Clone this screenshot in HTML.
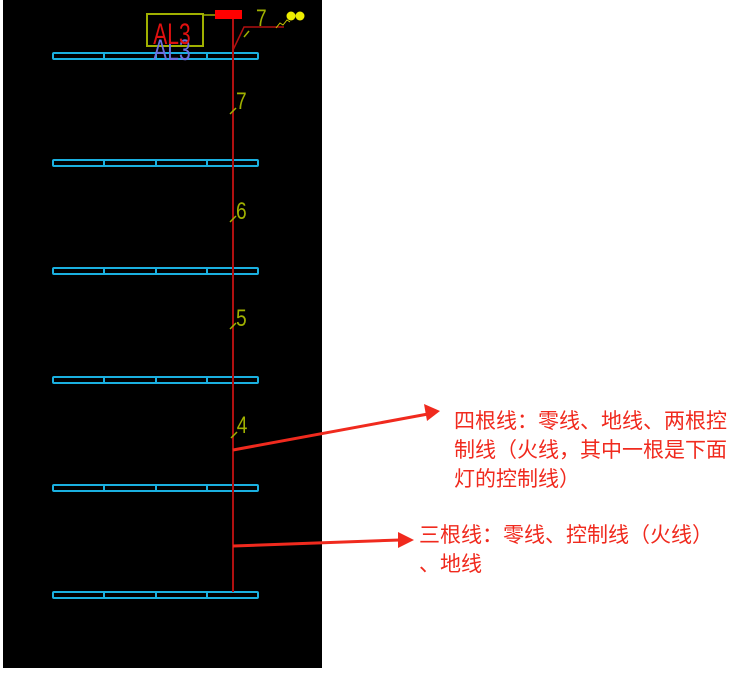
<!DOCTYPE html>
<html><head><style>
html,body{margin:0;padding:0;background:#fff;width:748px;height:683px;overflow:hidden}
.t{position:absolute;color:#f02a1e;font-family:"Liberation Sans","Noto Sans CJK SC",sans-serif;font-size:21px;line-height:29px}
</style></head><body>
<svg width="748" height="683" style="position:absolute;left:0;top:0">
<rect x="3" y="0" width="319" height="668" fill="#000"/>
<g fill="none" stroke="#1ab0e0" stroke-width="2">
<rect x="53" y="53" width="205" height="6" rx="1"/>
<rect x="53" y="160" width="205" height="6" rx="1"/>
<rect x="53" y="268" width="205" height="6" rx="1"/>
<rect x="53" y="377" width="205" height="6" rx="1"/>
<rect x="53" y="485" width="205" height="6" rx="1"/>
<rect x="53" y="592" width="205" height="6" rx="1"/>
<path d="M104 53v6M156 53v6M207 53v6M104 160v6M156 160v6M207 160v6M104 268v6M156 268v6M207 268v6M104 377v6M156 377v6M207 377v6M104 485v6M156 485v6M207 485v6M104 592v6M156 592v6M207 592v6"/>
</g>
<path d="M233 18V592" stroke="#b01010" stroke-width="2"/>
<path d="M233 50L244 27H284" stroke="#b01010" stroke-width="1.5" fill="none"/>
<rect x="215" y="10" width="27" height="9" fill="#f00"/>
<rect x="147" y="14" width="56" height="32" fill="none" stroke="#a0b000" stroke-width="2"/>
<path d="M203 15H215" stroke="#a0b000" stroke-width="1.5"/>
<circle cx="291" cy="16" r="4.5" fill="#ee0"/><circle cx="300" cy="16" r="4.5" fill="#ee0"/>
<path d="M276 28l4-5 3 2 4-5 3 2" stroke="#cc0" fill="none"/>
<g font-family="Liberation Sans,sans-serif" font-size="24" fill="#a0b000" transform="scale(0.8,1)">
<text x="320" y="26">7</text><text x="295" y="109">7</text><text x="295" y="219">6</text><text x="295" y="326">5</text><text x="296" y="433">4</text>
</g>
<path d="M249 31l-5 6M236 108l-6 6M236 216l-6 6M236 323l-6 6M237 432l-6 6" stroke="#a0b000" stroke-width="1.5"/>
<g font-family="Liberation Sans,sans-serif" font-size="30" transform="scale(0.7,1)">
<text x="219" y="60" fill="#6a70e0">AL3</text>
<text x="219" y="44" fill="#e01010">AL3</text>
</g>
<path d="M233 450L428 414" stroke="#f02a1e" stroke-width="3"/>
<polygon points="440,411 424,404 427,421" fill="#f02a1e"/>
<path d="M233 546L400 540" stroke="#f02a1e" stroke-width="3"/>
<polygon points="414,540 398,532 398,548" fill="#f02a1e"/>
</svg>
<div class="t" style="left:454px;top:407px;width:285px">四根线：零线、地线、两根控制线（火线，其中一根是下面灯的控制线）</div>
<div class="t" style="left:419px;top:521px;width:300px">三根线：零线、控制线（火线）<br>、地线</div>
</body></html>
